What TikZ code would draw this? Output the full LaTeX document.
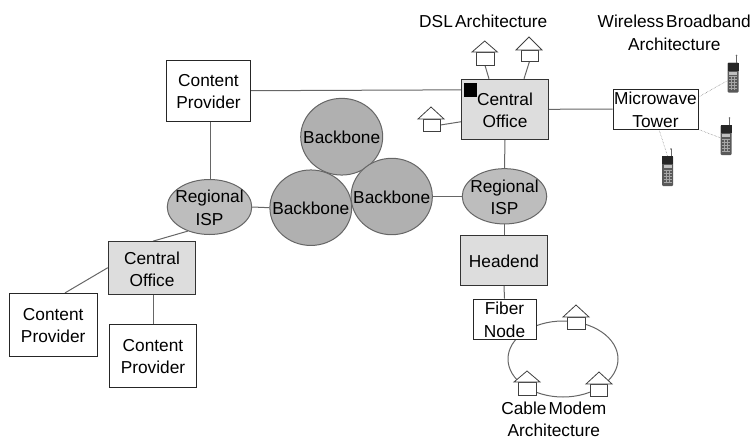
\documentclass[tikz,border=0pt]{standalone}
\usepackage{fontspec}
\setmainfont[WordSpace=0.45]{Liberation Sans}
\usetikzlibrary{backgrounds,shapes.geometric}
\definecolor{ln}{HTML}{666666}
\definecolor{boxgray}{HTML}{DDDDDD}
\definecolor{ovalgray}{HTML}{BDBDBD}
\definecolor{circgray}{HTML}{B0B0B0}
\tikzset{
  every node/.style={font=\fontsize{17.3}{22.4}\selectfont,align=center,inner sep=0pt,text=black},
  tx/.style={label={[yshift=-0.8pt]center:#1}},
  whitebox/.style={draw=black!85,fill=white,line width=0.9pt,rectangle},
  graybox/.style={draw=black!80,fill=boxgray,line width=1pt,rectangle},
  oval/.style={draw=ln,fill=ovalgray,line width=1pt,ellipse},
  bone/.style={draw=ln,fill=circgray,line width=1pt,ellipse},
  link/.style={draw=ln,line width=1pt},
  radio/.style={draw=black!55,line width=0.5pt,densely dotted},
  housebody/.style={draw=black!75,fill=white,line width=0.8pt,rectangle},
  roof/.style={draw=black!75,fill=white,line width=0.8pt,line join=miter},
  phonebody/.style={fill=black!65,minimum width=11pt,minimum height=30pt,rounded corners=1pt}
}
% name, body x0,y0,x1,y1, roof left x, apex x, apex y
\newcommand{\housemark}[8]{%
  \node[housebody,minimum width=#4pt-#2pt,minimum height=#5pt-#3pt] (#1) at ({(#2+#4)/2},{(#3+#5)/2}) {};
  \draw[roof] (#6,#3) -- (#7,#8) -- ({2*#7-#6},#3) -- cycle;
}
% name, x, y (centre)
\newcommand{\phonemark}[3]{%
  \node[phonebody] (#1) at (#2,#3) {};
  \begin{scope}[shift={(#2,#3)}]
    \fill[black!85] (-5.5,-15) rectangle (5.5,-7);
    \fill[black!25] (-4,-6) rectangle (4,-3);
    \foreach \yy in {-1,2,5,8,11}{\draw[black!35,line width=0.6pt] (-4,\yy) -- (4,\yy);}
    \draw[black!35,line width=0.5pt] (-1.5,-1) -- (-1.5,12) (1.5,-1) -- (1.5,12);
    \draw[black!60,line width=0.6pt] (3.5,-15) -- (3.5,-22);
    \fill[black!60] (3.5,-22) circle (0.9);
  \end{scope}%
}
\begin{document}
\begin{tikzpicture}[x=1pt,y=-1pt]
\useasboundingbox (0,0) rectangle (753,437);
% shapes
\node[whitebox,minimum width=84pt,minimum height=61pt,tx={Content\\Provider}] (cp) at (208.5,90.7) {};
\node[graybox,minimum width=86.5pt,minimum height=60pt,tx={Central\\Office}] (co) at (505,109.3) {};
\node[fill=black,minimum width=13pt,minimum height=14.5pt] (sq) at (470.5,89.8) {};
\node[whitebox,minimum width=85pt,minimum height=40pt,tx={Microwave\\Tower}] (mw) at (655.5,109) {};
\node[bone,minimum width=81.8pt,minimum height=75.5pt,tx={Backbone}] (b2) at (310.8,207.7) {};
\node[bone,minimum width=82pt,minimum height=76.7pt,tx={Backbone}] (b1) at (341.7,136.7) {};
\node[bone,minimum width=81.3pt,minimum height=76.4pt,tx={Backbone}] (b3) at (391.7,196.5) {};
\node[oval,minimum width=84.5pt,minimum height=55pt,tx={Regional\\ISP}] (r1) at (209.5,207) {};
\node[oval,minimum width=84.5pt,minimum height=55.3pt,tx={Regional\\ISP}] (r2) at (504.5,196.3) {};
\node[graybox,minimum width=86.6pt,minimum height=49.6pt,tx={Headend}] (he) at (504,260.5) {};
\node[graybox,minimum width=87.4pt,minimum height=53.3pt,tx={Central\\Office}] (c2) at (152,268.3) {};
\node[whitebox,minimum width=87.7pt,minimum height=62.7pt,tx={Content\\Provider}] (cp2) at (53.2,324.7) {};
\node[whitebox,minimum width=87.4pt,minimum height=62.6pt,tx={Content\\Provider}] (cp3) at (153,356) {};
\node[draw=ln,line width=1pt,ellipse,minimum width=110pt,minimum height=76pt] (ring) at (563,359) {};
\node[whitebox,minimum width=63pt,minimum height=40pt,tx={Fiber\\Node}] (fn) at (504.5,319) {};
% houses
\housemark{h1}{476}{52}{494}{65}{472}{484.7}{41}
\housemark{h2}{521}{50}{538}{61}{516}{529}{37}
\housemark{h3}{423}{119}{440}{131}{418}{431}{107}
\housemark{h4}{567}{317}{585}{329}{563}{576}{305}
\housemark{h5}{518}{382}{536}{395}{514}{527}{371}
\housemark{h6}{590}{384}{607}{396}{586}{599}{372}
% phones
\phonemark{p1}{733}{77.5}
\phonemark{p2}{726}{140}
\phonemark{p3}{667.5}{171}
% captions
\node (t1) at (483.3,21.2) {DSL Architecture};
\node (t2) at (674.3,32.7) {Wireless Broadband\\Architecture};
\node (t3) at (553.8,419.2) {Cable Modem\\Architecture};
% connectors
\begin{scope}[on background layer]
\draw[link] (cp.east) -- (sq);
\draw[link] (cp.south -| 210,0) -- (r1.north -| 210,0);
\draw[link] (r1.east) -- (b2.west);
\draw[link] (r1.228) -- (c2.north -| 153,0);
\draw[link] (c2.west |- 0,267.7) -- (cp2.north -| 65,0);
\draw[link] (c2.south -| 153,0) -- (cp3.north -| 153,0);
\draw[link] (b3.east) -- (r2.west |- b3.east);
\draw[link] (co.south) -- (r2.north);
\draw[link] (r2.south -| 504,0) -- (he.north -| 504,0);
\draw[link] (he.south) -- (fn.north);
\draw[link] (co.east) -- (mw.west);
\draw[link] (h1.south) -- (co.north -| 489,0);
\draw[link] (h2.south) -- (co.north -| 524,0);
\draw[link] (h3.east) -- (co.west |- 0,121.7);
\draw[radio] (mw.east |- 0,97) -- (p1);
\draw[radio] (mw.south east) -- (p2);
\draw[radio] (mw.south -| 659,0) -- (p3.north);
\end{scope}
\end{tikzpicture}
\end{document}
